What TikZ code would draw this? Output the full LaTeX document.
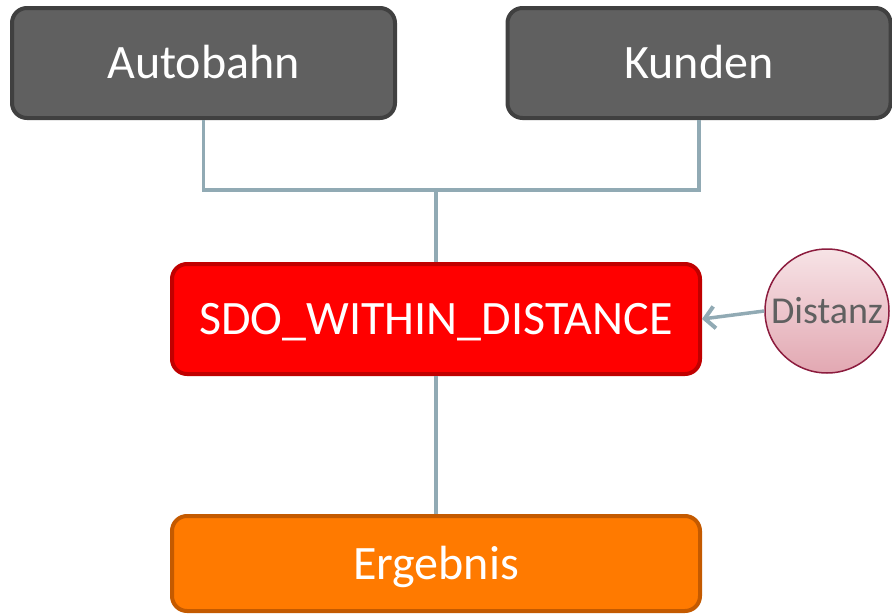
\documentclass[tikz,border=0pt]{standalone}
\usepackage{fontspec}
\setmainfont{Carlito}
\usetikzlibrary{positioning,arrows.meta}
\definecolor{boxGray}{HTML}{606060}
\definecolor{boxGrayLine}{HTML}{404040}
\definecolor{boxRed}{HTML}{FF0000}
\definecolor{boxRedLine}{HTML}{C00000}
\definecolor{boxOrange}{HTML}{FF7A00}
\definecolor{boxOrangeLine}{HTML}{C45A00}
\definecolor{linkBlue}{HTML}{91AAB4}
\definecolor{paramTop}{HTML}{F7E3E6}
\definecolor{paramBottom}{HTML}{E2A8B2}
\definecolor{paramLine}{HTML}{8C1C3E}
\tikzset{
    tableBox/.style={
        rounded corners=15pt, line width=4pt, inner sep=0pt,
        text=white, font=\fontsize{48}{54}\selectfont,
        text height=36pt, text depth=5pt,
        minimum width=383pt, minimum height=110pt
    },
    opBox/.style={
        tableBox, minimum width=528pt
    },
    link/.style={linkBlue, line width=3.5pt}
}
\begin{document}
\begin{tikzpicture}[x=1pt,y=-1pt]
    \useasboundingbox (0,0) rectangle (892,616);
    % input tables
    \node[tableBox, fill=boxGray, draw=boxGrayLine] (autobahn) at (203.5,63) {Autobahn};
    \node[tableBox, fill=boxGray, draw=boxGrayLine] (kunden) at (699,63) {Kunden};
    % spatial operator and result
    \node[opBox, fill=boxRed, draw=boxRedLine] (sdo) at (436,319) {SDO\_WITHIN\_DISTANCE};
    \node[opBox, fill=boxOrange, draw=boxOrangeLine, minimum height=95pt] (ergebnis) at (436,563.5) {Ergebnis};
    % distance parameter
    \node[circle, draw=paramLine, line width=1.5pt, top color=paramTop, bottom color=paramBottom,
          minimum size=124pt, inner sep=0pt, text=boxGray, font=\fontsize{38}{42}\selectfont]
          (distanz) at (827,311) {Distanz};

    \coordinate (join) at (436,190);
    \draw[link] (autobahn.south) |- (join) -| (kunden.south);
    \draw[link] (join) -- (sdo.north);
    \draw[link] (sdo.south) -- (ergebnis.north);
    \draw[link, -{Straight Barb[length=10pt,width=22pt,line width=4pt]}] (distanz.west) -- (sdo.east);
\end{tikzpicture}
\end{document}
